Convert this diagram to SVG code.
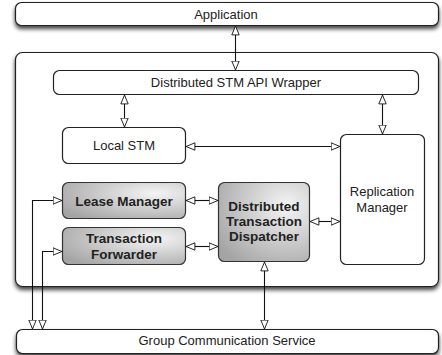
<svg xmlns="http://www.w3.org/2000/svg" width="442" height="355" viewBox="0 0 442 355">
<style>
.box{fill:#fff;stroke:#222;stroke-width:1.2}
.gbox{fill:url(#g);stroke:#333;stroke-width:1.2}
.t{font-family:"Liberation Sans",Arial,sans-serif;font-size:13px;fill:#222;text-anchor:middle}
.b{font-family:"Liberation Sans",Arial,sans-serif;font-size:13.5px;font-weight:bold;fill:#222;text-anchor:middle}
.c{fill:none;stroke:#111;stroke-width:1.1}
.a2{marker-start:url(#ah);marker-end:url(#ah)}
.a1{marker-start:url(#ah);marker-end:url(#ah)}
</style>
<defs>
<marker id="ah" viewBox="0 0 10 9" refX="9.5" refY="4.5" markerWidth="10" markerHeight="9" markerUnits="userSpaceOnUse" orient="auto-start-reverse">
<path d="M0.6,0.8 L9.4,4.5 L0.6,8.2 Z" fill="#fff" stroke="#111" stroke-width="0.9"/>
</marker>
<radialGradient id="g" cx="0.75" cy="0.3" r="0.9">
<stop offset="0" stop-color="#f4f4f4"/>
<stop offset="1" stop-color="#a4a4a4"/>
</radialGradient>
<filter id="sh" x="-5%" y="-20%" width="110%" height="160%">
<feDropShadow dx="0" dy="3" stdDeviation="2.2" flood-color="#000" flood-opacity="0.75"/>
</filter>
</defs>
<g id="application"><rect class="box" x="15.5" y="2.5" width="423" height="23" rx="6" filter="url(#sh)"/><text class="t" x="226" y="18.5">Application</text></g>
<g id="container"><rect class="box" x="15.5" y="52.5" width="423" height="234" rx="7" filter="url(#sh)"/></g>
<g id="gcs"><rect class="box" x="16.5" y="329.5" width="422" height="24" rx="6" filter="url(#sh)"/><text class="t" x="227" y="345">Group Communication Service</text></g>
<g id="wrapper"><rect class="box" x="53.5" y="70.5" width="365" height="24" rx="6"/><text class="t" x="236" y="87">Distributed STM API Wrapper</text></g>
<g id="localstm"><rect class="box" x="62.5" y="127.5" width="123" height="36" rx="6"/><text class="t" x="124" y="150">Local STM</text></g>
<g id="replication"><rect class="box" x="340.5" y="134.5" width="84" height="130" rx="6"/><text class="t" x="382" y="196">Replication</text><text class="t" x="382" y="212">Manager</text></g>
<g id="lease"><rect class="gbox" x="62.5" y="182.5" width="123" height="36" rx="6"/><text class="b" x="124" y="206">Lease Manager</text></g>
<g id="forwarder"><rect class="gbox" x="62.5" y="227.5" width="123" height="37" rx="6"/><text class="b" x="124" y="243">Transaction</text><text class="b" x="124" y="259">Forwarder</text></g>
<g id="dispatcher"><rect class="gbox" x="218.5" y="182.5" width="91" height="79" rx="6"/><text class="b" x="264" y="211">Distributed</text><text class="b" x="264" y="226">Transaction</text><text class="b" x="264" y="241">Dispatcher</text></g>
<g id="connectors">
<line class="c a2" x1="235.5" y1="26" x2="235.5" y2="70"/>
<line class="c a2" x1="124.5" y1="95" x2="124.5" y2="127"/>
<line class="c a2" x1="382.5" y1="95" x2="382.5" y2="134"/>
<line class="c a2" x1="186" y1="146.5" x2="340" y2="146.5"/>
<line class="c a2" x1="186" y1="200.5" x2="218" y2="200.5"/>
<line class="c a2" x1="186" y1="246.5" x2="218" y2="246.5"/>
<line class="c a2" x1="310" y1="221.5" x2="340" y2="221.5"/>
<line class="c a2" x1="264.5" y1="262" x2="264.5" y2="329"/>
<polyline class="c a1" points="32.5,329 32.5,200.5 62,200.5"/>
<polyline class="c a1" points="42.5,329 42.5,251.5 62,251.5"/>
</g>
</svg>
